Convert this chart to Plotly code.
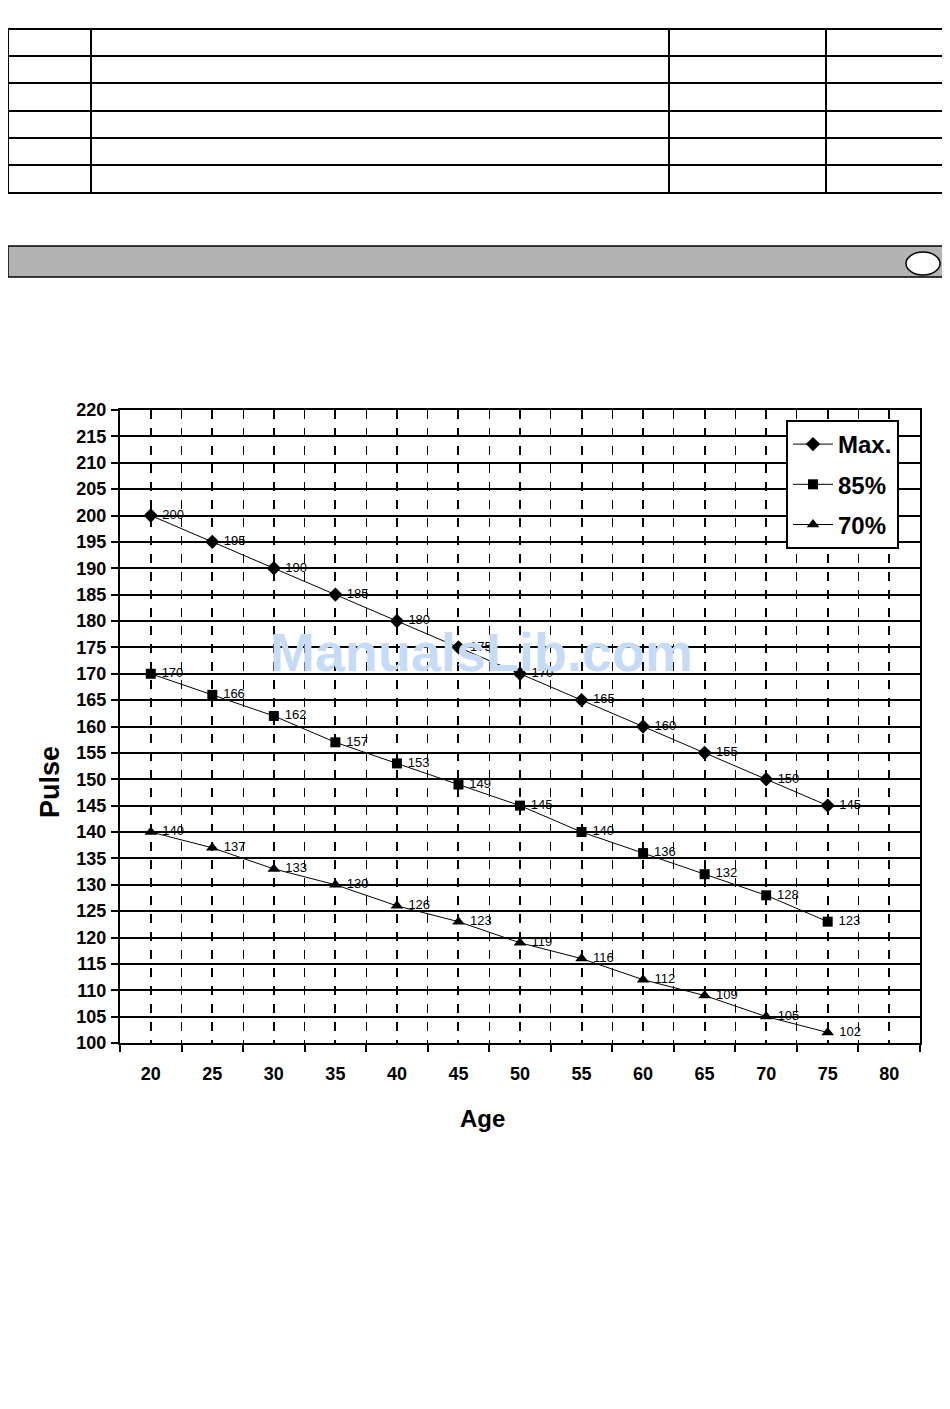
import plotly.graph_objects as go

ages = [20, 25, 30, 35, 40, 45, 50, 55, 60, 65, 70, 75]
pulse_max = [200, 195, 190, 185, 180, 175, 170, 165, 160, 155, 150, 145]
pulse_85 = [170, 166, 162, 157, 153, 149, 145, 140, 136, 132, 128, 123]
pulse_70 = [140, 137, 133, 130, 126, 123, 119, 116, 112, 109, 105, 102]
x_ticks = [20, 25, 30, 35, 40, 45, 50, 55, 60, 65, 70, 75, 80]
y_ticks = list(range(100, 225, 5))

# figure sized to fit inside the page body (8px default margin)
OFF = 8
W, H = 934, 1393
def py(y):
    return 1 - (y - OFF) / H
def px(x):
    return max(0.0, (x - OFF) / W)

FONT = "Liberation Sans, Arial, sans-serif"

fig = go.Figure()
series = [("Max.", pulse_max, "diamond", 11), ("85%", pulse_85, "square", 10), ("70%", pulse_70, "triangle-up", 11)]
for i, (name, vals, sym, sz) in enumerate(series):
    fig.add_trace(go.Scatter(
        x=ages, y=vals, name=name, mode="lines+markers+text",
        text=[" " + str(v) for v in vals], textposition="middle right",
        textfont=dict(family=FONT, size=13, color="black"),
        line=dict(color="black", width=1),
        marker=dict(symbol=sym, size=sz, color="black"),
        legendgroup=f"g{i}",
    ))

shapes = []
rows_y = [29, 56, 83, 111, 138, 165, 193]
cols_x = [2, 91, 669, 826, 948]
for y in rows_y:
    shapes.append(dict(type="line", xref="paper", yref="paper", x0=px(2), x1=px(948), y0=py(y), y1=py(y),
                       line=dict(color="black", width=2)))
for x in cols_x:
    shapes.append(dict(type="line", xref="paper", yref="paper", x0=px(x), x1=px(x), y0=py(29), y1=py(193),
                       line=dict(color="black", width=2)))
shapes.append(dict(type="rect", xref="paper", yref="paper", x0=px(2), x1=px(948), y0=py(277), y1=py(246),
                   fillcolor="#b3b3b3", line=dict(color="black", width=1.5), layer="below"))
shapes.append(dict(type="circle", xref="paper", yref="paper", x0=px(906), x1=px(940), y0=py(275), y1=py(252),
                   fillcolor="white", line=dict(color="black", width=1.5)))

fig.update_layout(
    width=W, height=H, autosize=False, margin=dict(l=0, r=0, t=0, b=0, pad=0),
    paper_bgcolor="white", plot_bgcolor="white",
    shapes=shapes,
    showlegend=True,
    legend=dict(x=px(786), y=py(420), xanchor="left", yanchor="top",
                bgcolor="white", bordercolor="black", borderwidth=2,
                font=dict(family=FONT, size=24, color="black", weight="bold"),
                traceorder="grouped", tracegroupgap=6, itemwidth=40),
    xaxis=dict(domain=[px(120), px(920)], range=[17.5, 82.5], automargin=False,
               tickvals=x_ticks, ticktext=[str(t) for t in x_ticks], ticks="", ticklabelstandoff=13,
               tickfont=dict(family=FONT, size=18, color="black", weight="bold"),
               showgrid=True, gridcolor="black", gridwidth=2, griddash="dash",
               minor=dict(tickvals=[17.5 + 5 * k for k in range(14)], showgrid=True, gridcolor="black",
                          gridwidth=1.3, ticks="outside", ticklen=7, tickcolor="black", tickwidth=1.5),
               showline=True, linecolor="black", linewidth=2, mirror=True, zeroline=False),
    yaxis=dict(domain=[py(1043), py(410)], range=[100, 220], automargin=False,
               tickvals=y_ticks, ticks="outside", ticklen=7, tickcolor="black", tickwidth=1.5,
               ticklabelstandoff=1,
               tickfont=dict(family=FONT, size=18, color="black", weight="bold"),
               showgrid=True, gridcolor="black", gridwidth=1.6,
               showline=True, linecolor="black", linewidth=2, mirror=True, zeroline=False),
    annotations=[
        dict(text="Pulse", xref="paper", yref="paper", x=px(50), y=py(782), showarrow=False, textangle=-90,
             xanchor="center", yanchor="middle",
             font=dict(family=FONT, size=27, color="black", weight="bold")),
        dict(text="Age", xref="paper", yref="paper", x=px(483), y=py(1118), showarrow=False,
             xanchor="center", yanchor="middle",
             font=dict(family=FONT, size=24, color="black", weight="bold")),
        dict(text="ManualsLib.com", xref="paper", yref="paper", x=px(482), y=py(652), showarrow=False,
             xanchor="center", yanchor="middle",
             font=dict(family=FONT, size=54, color="#c6dbf5", weight="bold")),
    ],
)

fig.write_html("out.html")
